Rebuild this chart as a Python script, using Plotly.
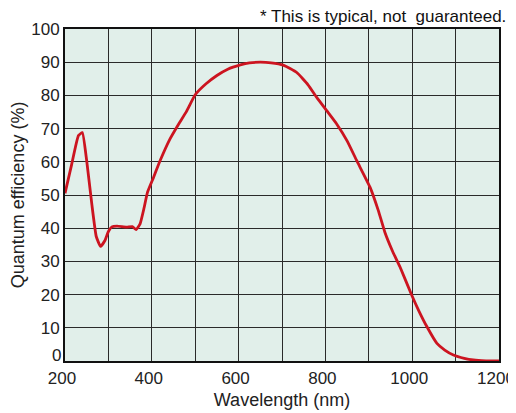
import plotly.graph_objects as go

wavelength = [200, 215, 231, 240, 250, 262, 272, 282, 292, 300, 308, 320, 342, 355, 364, 373, 382, 390,
              404, 419, 442, 462, 480, 500, 525, 550, 575, 604, 625, 650, 675, 703, 734, 760, 780,
              803, 826, 850, 872, 903, 922, 937, 955, 972, 999, 1015, 1034, 1057, 1075, 1095, 1120, 1141, 1170, 1200]
qe = [50.5, 59.0, 67.9, 68.8, 60.3, 47.0, 37.5, 34.5, 36.3, 39.0, 40.4, 40.6, 40.3, 40.5, 39.6, 41.3, 46.0, 50.8,
      55.3, 60.3, 66.9, 71.4, 75.2, 80.2, 83.5, 86.0, 87.9, 89.2, 89.8, 90.0, 89.8, 89.1, 86.9, 83.2, 79.4,
      75.4, 71.4, 66.3, 60.4, 52.3, 45.3, 38.8, 33.0, 28.3, 19.8, 15.2, 10.3, 5.3, 3.3, 1.8, 0.8, 0.3, 0.05, 0.0]

x_ticks = [200, 400, 600, 800, 1000, 1200]
y_ticks = [0, 10, 20, 30, 40, 50, 60, 70, 80, 90, 100]

FONT = "Liberation Sans, Arial, Helvetica, sans-serif"
GRID = "#2a2a2a"
TXT = "#222222"

fig = go.Figure()
fig.add_trace(go.Scatter(
    x=wavelength, y=qe, mode="lines",
    line=dict(color="#cc1420", width=2.8, shape="spline", smoothing=0.4),
    hoverinfo="skip", showlegend=False,
))

# page body has an 8px default margin, so the margins are offset to compensate
fig.update_layout(
    width=516, height=413,
    margin=dict(l=57, r=25, t=21, b=60),
    paper_bgcolor="white",
    plot_bgcolor="#e1efea",
    font=dict(family=FONT, size=17, color=TXT),
    xaxis=dict(
        range=[200, 1200], tickvals=x_ticks, ticktext=[str(v) for v in x_ticks],
        showgrid=True, gridcolor=GRID, gridwidth=1.2,
        minor=dict(dtick=100, tick0=200, showgrid=True, gridcolor=GRID, gridwidth=1.2),
        showline=True, linecolor="#111111", linewidth=2, mirror=True,
        ticks="", zeroline=False, automargin=False, ticklabelstandoff=1,
        ticklabelshift=-3,
        title=dict(text="Wavelength (nm)", font=dict(size=18), standoff=6),
        tickfont=dict(size=17),
    ),
    yaxis=dict(
        range=[0, 100], tickvals=y_ticks,
        ticktext=["" if v == y_ticks[0] else str(v) for v in y_ticks],
        showgrid=True, gridcolor=GRID, gridwidth=1.2,
        showline=True, linecolor="#111111", linewidth=2, mirror=True,
        ticks="", zeroline=False, automargin=False, ticklabelstandoff=0,
        title=dict(text="Quantum efficiency (%)", font=dict(size=18), standoff=2),
        tickfont=dict(size=17),
    ),
    annotations=[
        dict(text="* This is typical, not  guaranteed.",
             xref="paper", yref="paper", x=1.021, y=1.0,
             xanchor="right", yanchor="bottom", yshift=1, showarrow=False,
             font=dict(size=17, color="#111111")),
        dict(text=str(y_ticks[0]), xref="paper", yref="y", x=0, y=y_ticks[0],
             xanchor="right", yanchor="middle", xshift=-2, yshift=6, showarrow=False,
             font=dict(size=17, color=TXT)),
    ],
)

fig.write_html("out.html")
